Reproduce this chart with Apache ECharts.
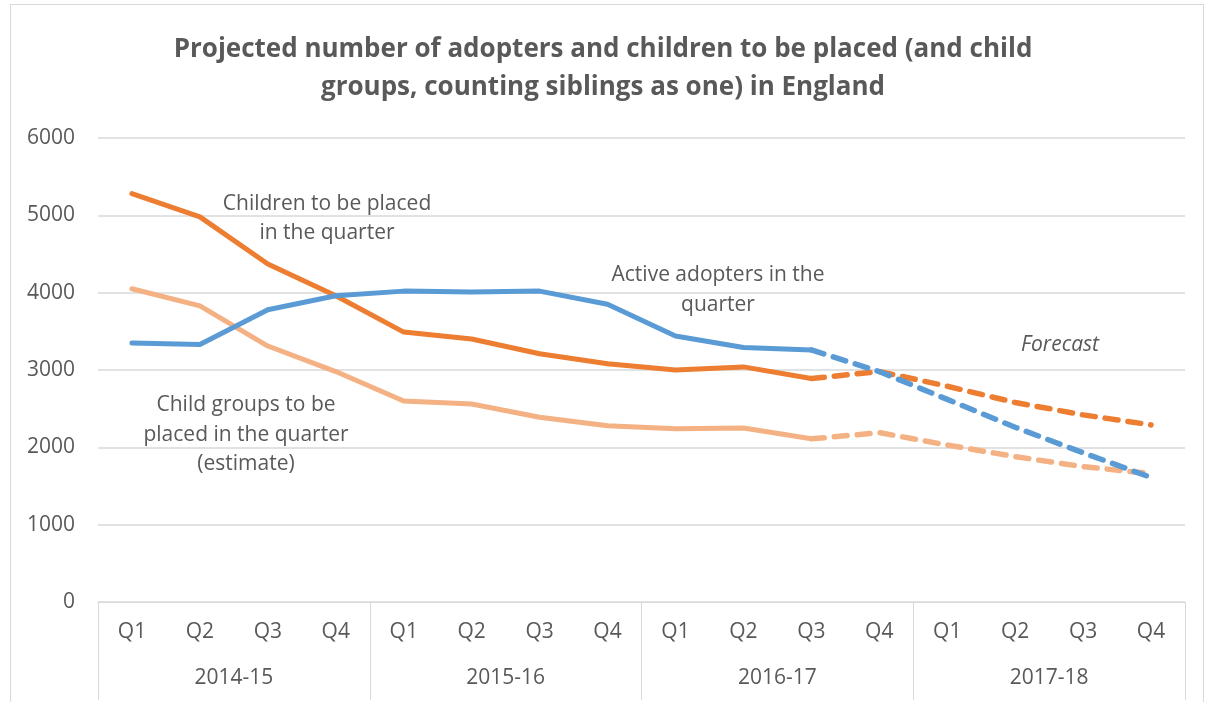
<!DOCTYPE html>
<html lang="en">
  <head>
    <meta charset="UTF-8" />
    <title>Adopters and children to be placed</title>
    <script src="https://cdn.jsdelivr.net/npm/echarts@6/dist/echarts.min.js"></script>
    <style>
      * {
        padding: 0;
        margin: 0;
      }
      body {
        background: #ffffff;
      }
      #box {
        position: absolute;
        left: 10px;
        top: 4px;
        width: 1194px;
        height: 700px;
        border: 1px solid #d9d9d9;
        border-bottom: none;
        box-sizing: border-box;
      }
      #main {
        position: absolute;
        left: 0;
        top: 0;
        width: 1206px;
        height: 702px;
      }
    </style>
  </head>
  <body>
    <div id="box"></div>
    <div id="main"></div>
    <script>
      var quarters = ["Q1", "Q2", "Q3", "Q4", "Q1", "Q2", "Q3", "Q4",
        "Q1", "Q2", "Q3", "Q4", "Q1", "Q2", "Q3", "Q4"];
      var years = ["2014-15", "2015-16", "2016-17", "2017-18"];
      var yTicks = [0, 1000, 2000, 3000, 4000, 5000, 6000];

      var adopters = [3350, 3330, 3780, 3960, 4020, 4010, 4020, 3850,
        3440, 3290, 3260, 2980, 2620, 2260, 1930, 1610];
      var children = [5280, 4980, 4370, 3960, 3490, 3400, 3210, 3080,
        3000, 3040, 2890, 2980, 2790, 2580, 2420, 2290];
      var groups = [4050, 3830, 3310, 2980, 2600, 2560, 2390, 2280,
        2240, 2250, 2110, 2190, 2030, 1880, 1750, 1660];

      // last actual quarter (2016-17 Q3), forecast is dashed from here
      var splitAt = 10;

      function actual(arr) {
        return arr.map(function (v, i) { return i <= splitAt ? v : null; });
      }
      function forecast(arr) {
        return arr.map(function (v, i) { return i >= splitAt ? v : null; });
      }

      var fontColor = "#595959";
      var gridColor = "#d9d9d9";
      var font = "'Open Sans', 'Noto Sans', sans-serif";

      function lineSeries(name, data, color, dashed) {
        return {
          name: name,
          type: "line",
          data: data,
          xAxisIndex: 0,
          symbol: "none",
          connectNulls: false,
          silent: true,
          lineStyle: {
            color: color,
            width: dashed ? 5.5 : 5,
            type: dashed ? [13, 10] : "solid",
            cap: "round",
            join: "round",
          },
          z: dashed ? 2 : 3,
        };
      }

      function note(x, y, text, italic) {
        return {
          type: "text",
          x: x,
          y: y,
          style: {
            text: text,
            fill: fontColor,
            font: (italic ? "italic " : "") + "21px " + font,
            align: "center",
            verticalAlign: "middle",
            lineHeight: 29.5,
          },
        };
      }

      var myChart = echarts.init(document.getElementById("main"));
      var option = {
        animation: false,
        textStyle: { fontFamily: font },
        title: {
          text: "Projected number of adopters and children to be placed (and child\ngroups, counting siblings as one) in England",
          left: "center",
          top: 26,
          textStyle: {
            color: fontColor,
            fontFamily: font,
            fontWeight: "bold",
            fontSize: 26,
            lineHeight: 38,
          },
        },
        grid: {
          left: 98,
          right: 21,
          top: 138,
          bottom: 100,
        },
        xAxis: [
          {
            type: "category",
            data: quarters,
            boundaryGap: true,
            axisLine: { show: true, lineStyle: { color: gridColor, width: 1 } },
            axisTick: { show: false },
            axisLabel: {
              color: fontColor,
              fontSize: 21,
              margin: 20,
              interval: 0,
            },
            splitLine: { show: false },
          },
          {
            type: "category",
            data: years,
            position: "bottom",
            boundaryGap: true,
            axisLine: { show: false },
            axisTick: {
              show: true,
              length: 98,
              interval: 0,
              lineStyle: { color: gridColor, width: 1 },
            },
            axisLabel: {
              color: fontColor,
              fontSize: 21,
              margin: 66,
              interval: 0,
            },
            splitLine: { show: false },
          },
        ],
        yAxis: {
          type: "value",
          min: yTicks[0],
          max: yTicks[yTicks.length - 1],
          interval: 1000,
          axisLine: { show: false },
          axisTick: { show: false },
          axisLabel: {
            color: fontColor,
            fontSize: 21,
            margin: 23,
            formatter: function (v) { return String(v); },
          },
          splitLine: { show: true, lineStyle: { color: gridColor, width: 1.5 } },
        },
        series: [
          lineSeries("Child groups", actual(groups), "#f4b183", false),
          lineSeries("Child groups forecast", forecast(groups), "#f4b183", true),
          lineSeries("Children", actual(children), "#ed7d31", false),
          lineSeries("Children forecast", forecast(children), "#ed7d31", true),
          lineSeries("Active adopters", actual(adopters), "#5b9bd5", false),
          lineSeries("Active adopters forecast", forecast(adopters), "#5b9bd5", true),
        ],
        graphic: [
          note(327, 218.5, "Children to be placed\nin the quarter"),
          note(718, 290, "Active adopters in the\nquarter"),
          note(246, 435, "Child groups to be\nplaced in the quarter\n(estimate)"),
          note(1060, 345, "Forecast", true),
        ],
      };
      myChart.setOption(option);
    </script>
  </body>
</html>
